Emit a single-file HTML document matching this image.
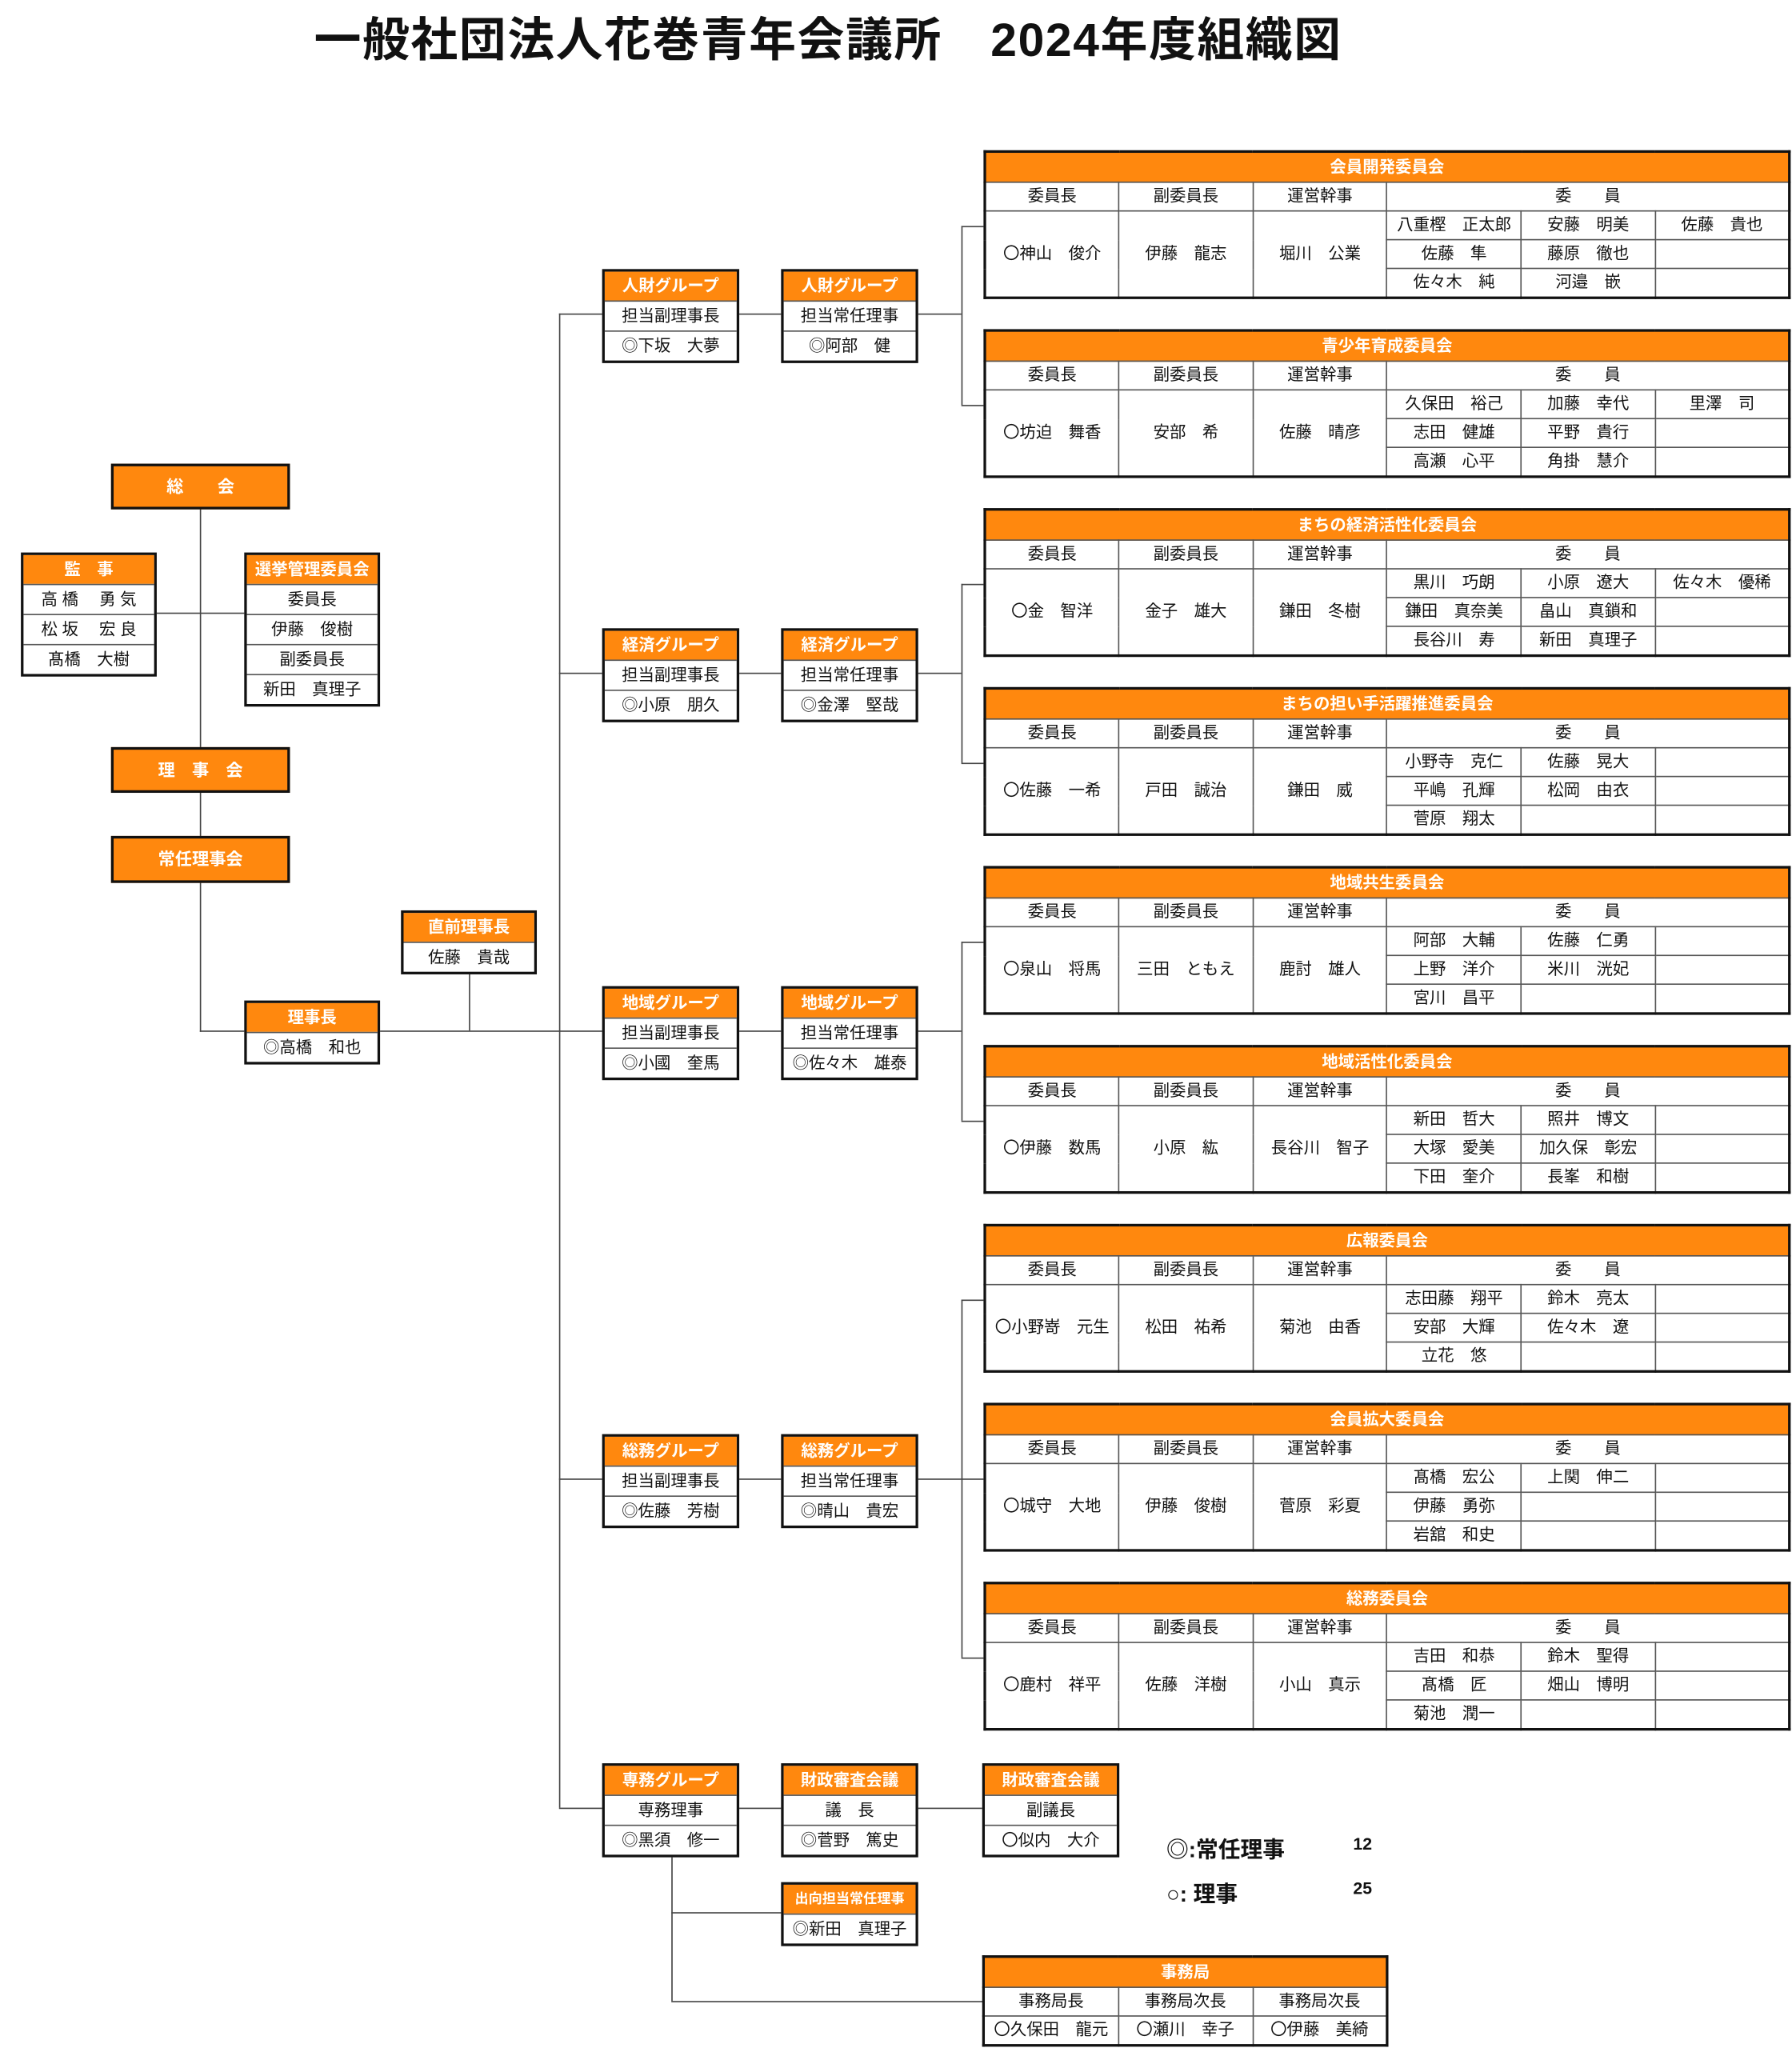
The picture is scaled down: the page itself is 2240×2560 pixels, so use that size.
<!DOCTYPE html>
<html><head><meta charset="utf-8">
<style>
html,body{margin:0;padding:0;background:#fff;}
body{width:2240px;height:2560px;overflow:hidden;position:relative;}
#w{position:absolute;left:0;top:0;width:1372px;height:1568px;transform:scale(1.632653);transform-origin:0 0;font-family:"Liberation Sans","Noto Sans CJK JP",sans-serif;color:#111;}
.t{position:absolute;left:0;width:1268px;top:2px;text-align:center;font-size:36px;font-weight:bold;letter-spacing:1px;}
.l{position:absolute;background:#444;}
.b{position:absolute;border:2px solid #111;background:#fff;box-sizing:border-box;}
.b div{height:22px;line-height:22px;text-align:center;font-size:12.5px;border-top:1px solid #555;white-space:nowrap;}
.b div.h{background:#FF880E;color:#fff;font-weight:bold;border-top:none;height:22px;}
.big{position:absolute;background:#FF880E;border:2px solid #111;box-sizing:border-box;color:#fff;font-weight:bold;font-size:13px;text-align:center;line-height:31px;}
table.c{position:absolute;left:753px;width:618px;border-collapse:collapse;table-layout:fixed;border:2px solid #111;font-size:12.5px;}
table.c td{border:1px solid #555;text-align:center;height:21px;padding:0;white-space:nowrap;line-height:21px;}
table.c td.h{background:#FF880E;color:#fff;font-weight:bold;height:22px;}
.lg{position:absolute;font-weight:bold;font-size:17px;}
</style></head><body><div id="w">
<div class="t">一般社団法人花巻青年会議所　2024年度組織図</div>

<div class="l" style="left:153px;top:389px;width:1px;height:401px"></div>
<div class="l" style="left:119px;top:469px;width:69px;height:1px"></div>
<div class="l" style="left:153px;top:789px;width:309px;height:1px"></div>
<div class="l" style="left:359px;top:743px;width:1px;height:46px"></div>
<div class="l" style="left:428px;top:240px;width:1px;height:1144px"></div>
<div class="l" style="left:428px;top:240px;width:34px;height:1px"></div>
<div class="l" style="left:428px;top:515px;width:34px;height:1px"></div>
<div class="l" style="left:428px;top:1132px;width:34px;height:1px"></div>
<div class="l" style="left:428px;top:1384px;width:34px;height:1px"></div>
<div class="l" style="left:565px;top:240px;width:34px;height:1px"></div>
<div class="l" style="left:565px;top:515px;width:34px;height:1px"></div>
<div class="l" style="left:565px;top:789px;width:34px;height:1px"></div>
<div class="l" style="left:565px;top:1132px;width:34px;height:1px"></div>
<div class="l" style="left:565px;top:1384px;width:188px;height:1px"></div>
<div class="l" style="left:702px;top:240px;width:34px;height:1px"></div>
<div class="l" style="left:736px;top:173px;width:1px;height:137px"></div>
<div class="l" style="left:736px;top:173px;width:17px;height:1px"></div>
<div class="l" style="left:736px;top:310px;width:17px;height:1px"></div>
<div class="l" style="left:702px;top:515px;width:34px;height:1px"></div>
<div class="l" style="left:736px;top:447px;width:1px;height:137px"></div>
<div class="l" style="left:736px;top:447px;width:17px;height:1px"></div>
<div class="l" style="left:736px;top:584px;width:17px;height:1px"></div>
<div class="l" style="left:702px;top:789px;width:34px;height:1px"></div>
<div class="l" style="left:736px;top:721px;width:1px;height:137px"></div>
<div class="l" style="left:736px;top:721px;width:17px;height:1px"></div>
<div class="l" style="left:736px;top:858px;width:17px;height:1px"></div>
<div class="l" style="left:702px;top:1132px;width:34px;height:1px"></div>
<div class="l" style="left:736px;top:995px;width:1px;height:274px"></div>
<div class="l" style="left:736px;top:995px;width:17px;height:1px"></div>
<div class="l" style="left:736px;top:1132px;width:17px;height:1px"></div>
<div class="l" style="left:736px;top:1269px;width:17px;height:1px"></div>
<div class="l" style="left:514px;top:1418px;width:1px;height:114px"></div>
<div class="l" style="left:514px;top:1464px;width:85px;height:1px"></div>
<div class="l" style="left:514px;top:1532px;width:239px;height:1px"></div>

<div class="big" style="left:85px;top:355px;width:137px;height:35px">総　　会</div>
<div class="big" style="left:85px;top:572px;width:137px;height:35px">理　事　会</div>
<div class="big" style="left:85px;top:640px;width:137px;height:36px">常任理事会</div>

<div class="b" style="left:16px;top:423px;width:104px"><div class="h">監　事</div><div>高 橋　 勇 気</div><div>松 坂　 宏 良</div><div>髙橋　大樹</div></div>
<div class="b" style="left:187px;top:423px;width:104px"><div class="h">選挙管理委員会</div><div>委員長</div><div>伊藤　俊樹</div><div>副委員長</div><div>新田　真理子</div></div>
<div class="b" style="left:307px;top:697px;width:104px"><div class="h">直前理事長</div><div>佐藤　貴哉</div></div>
<div class="b" style="left:187px;top:766px;width:104px"><div class="h">理事長</div><div>◎高橋　和也</div></div>

<div class="b" style="left:461px;top:206px;width:105px"><div class="h">人財グループ</div><div>担当副理事長</div><div>◎下坂　大夢</div></div>
<div class="b" style="left:598px;top:206px;width:105px"><div class="h">人財グループ</div><div>担当常任理事</div><div>◎阿部　健</div></div>
<div class="b" style="left:461px;top:481px;width:105px"><div class="h">経済グループ</div><div>担当副理事長</div><div>◎小原　朋久</div></div>
<div class="b" style="left:598px;top:481px;width:105px"><div class="h">経済グループ</div><div>担当常任理事</div><div>◎金澤　堅哉</div></div>
<div class="b" style="left:461px;top:755px;width:105px"><div class="h">地域グループ</div><div>担当副理事長</div><div>◎小國　奎馬</div></div>
<div class="b" style="left:598px;top:755px;width:105px"><div class="h">地域グループ</div><div>担当常任理事</div><div>◎佐々木　雄泰</div></div>
<div class="b" style="left:461px;top:1098px;width:105px"><div class="h">総務グループ</div><div>担当副理事長</div><div>◎佐藤　芳樹</div></div>
<div class="b" style="left:598px;top:1098px;width:105px"><div class="h">総務グループ</div><div>担当常任理事</div><div>◎晴山　貴宏</div></div>
<div class="b" style="left:461px;top:1350px;width:105px"><div class="h">専務グループ</div><div>専務理事</div><div>◎黑須　修一</div></div>
<div class="b" style="left:598px;top:1350px;width:105px"><div class="h">財政審査会議</div><div>議　長</div><div>◎菅野　篤史</div></div>
<div class="b" style="left:752px;top:1350px;width:105px"><div class="h">財政審査会議</div><div>副議長</div><div>〇似内　大介</div></div>
<div class="b" style="left:598px;top:1441px;width:105px"><div class="h" style="font-size:10.5px">出向担当常任理事</div><div>◎新田　真理子</div></div>

<div class="lg" style="left:893px;top:1402px">◎:常任理事</div>
<div class="lg" style="left:1036px;top:1404px;font-size:13px">12</div>
<div class="lg" style="left:893px;top:1436px">○: 理事</div>
<div class="lg" style="left:1036px;top:1438px;font-size:13px">25</div>

<table class="c" style="left:752px;top:1497px;width:311px"><tr><td class="h" colspan="3">事務局</td></tr><tr><td>事務局長</td><td>事務局次長</td><td>事務局次長</td></tr><tr><td>〇久保田　龍元</td><td>〇瀬川　幸子</td><td>〇伊藤　美綺</td></tr></table>

<table class="c" style="top:115px"><tr><td class="h" colspan="6">会員開発委員会</td></tr><tr><td>委員長</td><td>副委員長</td><td>運営幹事</td><td colspan="3">委　　員</td></tr><tr><td rowspan="3">〇神山　俊介</td><td rowspan="3">伊藤　龍志</td><td rowspan="3">堀川　公業</td><td>八重樫　正太郎</td><td>安藤　明美</td><td>佐藤　貴也</td></tr><tr><td>佐藤　隼</td><td>藤原　徹也</td><td></td></tr><tr><td>佐々木　純</td><td>河邉　嵌</td><td></td></tr></table>
<table class="c" style="top:252px"><tr><td class="h" colspan="6">青少年育成委員会</td></tr><tr><td>委員長</td><td>副委員長</td><td>運営幹事</td><td colspan="3">委　　員</td></tr><tr><td rowspan="3">〇坊迫　舞香</td><td rowspan="3">安部　希</td><td rowspan="3">佐藤　晴彦</td><td>久保田　裕己</td><td>加藤　幸代</td><td>里澤　司</td></tr><tr><td>志田　健雄</td><td>平野　貴行</td><td></td></tr><tr><td>高瀬　心平</td><td>角掛　慧介</td><td></td></tr></table>
<table class="c" style="top:389px"><tr><td class="h" colspan="6">まちの経済活性化委員会</td></tr><tr><td>委員長</td><td>副委員長</td><td>運営幹事</td><td colspan="3">委　　員</td></tr><tr><td rowspan="3">〇金　智洋</td><td rowspan="3">金子　雄大</td><td rowspan="3">鎌田　冬樹</td><td>黒川　巧朗</td><td>小原　遼大</td><td>佐々木　優稀</td></tr><tr><td>鎌田　真奈美</td><td>畠山　真鎖和</td><td></td></tr><tr><td>長谷川　寿</td><td>新田　真理子</td><td></td></tr></table>
<table class="c" style="top:526px"><tr><td class="h" colspan="6">まちの担い手活躍推進委員会</td></tr><tr><td>委員長</td><td>副委員長</td><td>運営幹事</td><td colspan="3">委　　員</td></tr><tr><td rowspan="3">〇佐藤　一希</td><td rowspan="3">戸田　誠治</td><td rowspan="3">鎌田　威</td><td>小野寺　克仁</td><td>佐藤　晃大</td><td></td></tr><tr><td>平嶋　孔輝</td><td>松岡　由衣</td><td></td></tr><tr><td>菅原　翔太</td><td></td><td></td></tr></table>
<table class="c" style="top:663px"><tr><td class="h" colspan="6">地域共生委員会</td></tr><tr><td>委員長</td><td>副委員長</td><td>運営幹事</td><td colspan="3">委　　員</td></tr><tr><td rowspan="3">〇泉山　将馬</td><td rowspan="3">三田　ともえ</td><td rowspan="3">鹿討　雄人</td><td>阿部　大輔</td><td>佐藤　仁勇</td><td></td></tr><tr><td>上野　洋介</td><td>米川　洸妃</td><td></td></tr><tr><td>宮川　昌平</td><td></td><td></td></tr></table>
<table class="c" style="top:800px"><tr><td class="h" colspan="6">地域活性化委員会</td></tr><tr><td>委員長</td><td>副委員長</td><td>運営幹事</td><td colspan="3">委　　員</td></tr><tr><td rowspan="3">〇伊藤　数馬</td><td rowspan="3">小原　紘</td><td rowspan="3">長谷川　智子</td><td>新田　哲大</td><td>照井　博文</td><td></td></tr><tr><td>大塚　愛美</td><td>加久保　彰宏</td><td></td></tr><tr><td>下田　奎介</td><td>長峯　和樹</td><td></td></tr></table>
<table class="c" style="top:937px"><tr><td class="h" colspan="6">広報委員会</td></tr><tr><td>委員長</td><td>副委員長</td><td>運営幹事</td><td colspan="3">委　　員</td></tr><tr><td rowspan="3">〇小野嵜　元生</td><td rowspan="3">松田　祐希</td><td rowspan="3">菊池　由香</td><td>志田藤　翔平</td><td>鈴木　亮太</td><td></td></tr><tr><td>安部　大輝</td><td>佐々木　遼</td><td></td></tr><tr><td>立花　悠</td><td></td><td></td></tr></table>
<table class="c" style="top:1074px"><tr><td class="h" colspan="6">会員拡大委員会</td></tr><tr><td>委員長</td><td>副委員長</td><td>運営幹事</td><td colspan="3">委　　員</td></tr><tr><td rowspan="3">〇城守　大地</td><td rowspan="3">伊藤　俊樹</td><td rowspan="3">菅原　彩夏</td><td>髙橋　宏公</td><td>上関　伸二</td><td></td></tr><tr><td>伊藤　勇弥</td><td></td><td></td></tr><tr><td>岩舘　和史</td><td></td><td></td></tr></table>
<table class="c" style="top:1211px"><tr><td class="h" colspan="6">総務委員会</td></tr><tr><td>委員長</td><td>副委員長</td><td>運営幹事</td><td colspan="3">委　　員</td></tr><tr><td rowspan="3">〇鹿村　祥平</td><td rowspan="3">佐藤　洋樹</td><td rowspan="3">小山　真示</td><td>吉田　和恭</td><td>鈴木　聖得</td><td></td></tr><tr><td>髙橋　匠</td><td>畑山　博明</td><td></td></tr><tr><td>菊池　潤一</td><td></td><td></td></tr></table>
</div></body></html>
